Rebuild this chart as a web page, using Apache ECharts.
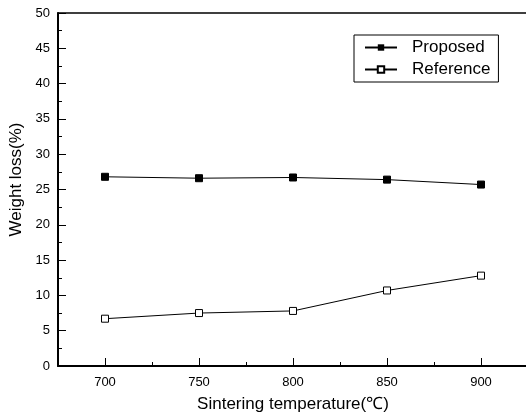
<!DOCTYPE html>
<html>
<head>
<meta charset="utf-8">
<script src="https://cdn.jsdelivr.net/npm/echarts@6/dist/echarts.min.js"></script>
<style>
  html, body { margin: 0; padding: 0; background: #fff; }
  #chart { width: 526px; height: 413px; }
</style>
</head>
<body>
<div id="chart"></div>
<script>
// sintering temperatures (°C)
const temps = [700, 750, 800, 850, 900]
const proposed = [26.8, 26.6, 26.7, 26.4, 25.7]
const reference = [6.7, 7.5, 7.8, 10.7, 12.8]
const xMajor = [700, 750, 800, 850, 900]
const xMinor = [725, 775, 825, 875]

const font = 'Liberation Sans, Arial, sans-serif'
const myChart = echarts.init(document.getElementById('chart'))

const pairs = (ys) => temps.map((t, i) => [t, ys[i]])

const option = {
  animation: false,
  grid: {
    left: 58,
    top: 13,
    width: 470,
    height: 353,
    outerBoundsMode: 'none'
  },
  legend: {
    orient: 'vertical',
    left: 354,
    top: 35,
    width: 144,
    padding: [4, 8, 4, 10],
    itemGap: 5,
    itemWidth: 32,
    itemHeight: 8,
    borderColor: '#000',
    borderWidth: 1,
    textStyle: { fontFamily: font, fontSize: 17, color: '#000', padding: [0, 0, 0, 10] },
    data: ['Proposed', 'Reference']
  },
  xAxis: [
    {
      type: 'value',
      min: 675,
      max: 925,
      name: 'Sintering temperature(℃)',
      nameLocation: 'middle',
      nameGap: 30,
      nameTextStyle: { fontFamily: font, fontSize: 17, color: '#000' },
      splitLine: { show: false },
      axisLine: { lineStyle: { color: '#000', width: 2 } },
      axisTick: { inside: true, length: 8, customValues: xMajor, lineStyle: { color: '#000' } },
      axisLabel: { customValues: xMajor, margin: 10, fontFamily: font, fontSize: 13, color: '#000' }
    },
    {
      type: 'value',
      min: 675,
      max: 925,
      position: 'bottom',
      splitLine: { show: false },
      axisLine: { show: false },
      axisTick: { inside: true, length: 4, customValues: xMinor, lineStyle: { color: '#000' } },
      axisLabel: { show: false }
    },
    {
      type: 'value',
      min: 675,
      max: 925,
      position: 'top',
      splitLine: { show: false },
      axisLine: { lineStyle: { color: '#000', width: 1.5 } },
      axisTick: { show: false },
      axisLabel: { show: false }
    }
  ],
  yAxis: {
    type: 'value',
    min: 0,
    max: 50,
    interval: 5,
    name: 'Weight loss(%)',
    nameLocation: 'middle',
    nameGap: 32,
    nameTextStyle: { fontFamily: font, fontSize: 17, color: '#000', padding: [0, 0, 0, 20] },
    splitLine: { show: false },
    axisLine: { show: true, lineStyle: { color: '#000', width: 2 } },
    axisTick: { inside: true, length: 8, lineStyle: { color: '#000' } },
    minorTick: { show: true, splitNumber: 2, length: 4, lineStyle: { color: '#000' } },
    minorSplitLine: { show: false },
    axisLabel: { margin: 8, fontFamily: font, fontSize: 13, color: '#000' }
  },
  series: [
    {
      name: 'Proposed',
      type: 'line',
      data: pairs(proposed),
      symbol: 'rect',
      symbolSize: 7,
      lineStyle: { color: '#000', width: 1 },
      itemStyle: { color: '#000', borderColor: '#000' }
    },
    {
      name: 'Reference',
      type: 'line',
      data: pairs(reference),
      symbol: 'rect',
      symbolSize: 7,
      lineStyle: { color: '#000', width: 1 },
      itemStyle: { color: '#fff', borderColor: '#000', borderWidth: 1 }
    }
  ]
}

myChart.setOption(option)
</script>
</body>
</html>
